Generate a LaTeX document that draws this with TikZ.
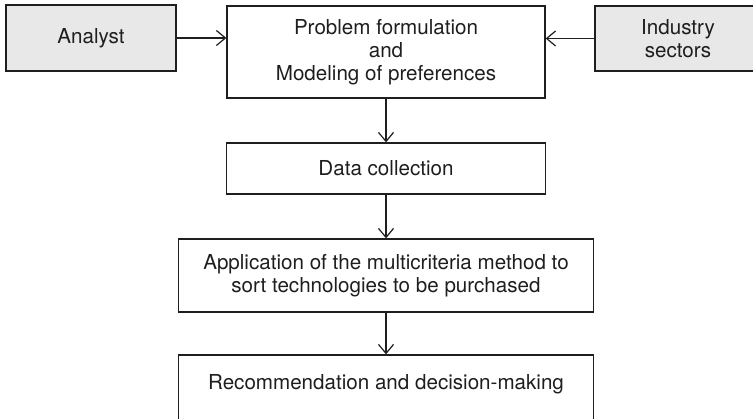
\documentclass[tikz,border=0pt]{standalone}
\usepackage{fontspec}
\setmainfont{TeX Gyre Heros}
\usetikzlibrary{arrows.meta}
\definecolor{boxgrey}{RGB}{232,232,232}
\definecolor{ink}{RGB}{30,30,30}
\tikzset{
  flowbox/.style={draw=ink, line width=1.3pt, inner sep=0pt, align=center,
    text=ink, font=\fontsize{20.6}{23}\selectfont},
  sidebox/.style={flowbox, fill=boxgrey},
  flowarrow/.style={draw=ink, line width=1.2pt,
    -{Straight Barb[length=9pt,width=15pt,line width=1.2pt]}}
}
\begin{document}
\begin{tikzpicture}[x=1pt,y=-1pt]
\useasboundingbox (0,0) rectangle (753,419);

% input boxes on either side
\node[sidebox, minimum width=170pt, minimum height=66pt] (analyst) at (91,38) {Analyst};
\node[sidebox, minimum width=166pt, minimum height=65pt] (industry) at (678,38.5) {Industry\\sectors};

% main column of steps
\node[flowbox, minimum width=318pt, minimum height=92pt] (problem) at (386,52)
  {Problem formulation\\and\\Modeling of preferences};
\node[flowbox, minimum width=319pt, minimum height=51pt] (data) at (386,168.5)
  {Data collection};
\node[flowbox, minimum width=415pt, minimum height=73pt] (apply) at (386,275.5)
  {Application of the multicriteria method to\\sort technologies to be purchased};
\node[flowbox, minimum width=415pt, minimum height=83pt] (rec) at (386,396.5)
  {Recommendation and decision-making\\\strut};

% connectors
\draw[flowarrow] (analyst.east) -- (problem.west |- analyst.east);
\draw[flowarrow] (industry.west) -- (problem.east |- industry.west);
\draw[flowarrow] (problem.south) -- (data.north);
\draw[flowarrow] (data.south) -- (apply.north);
\draw[flowarrow] (apply.south) -- (rec.north);
\end{tikzpicture}
\end{document}
